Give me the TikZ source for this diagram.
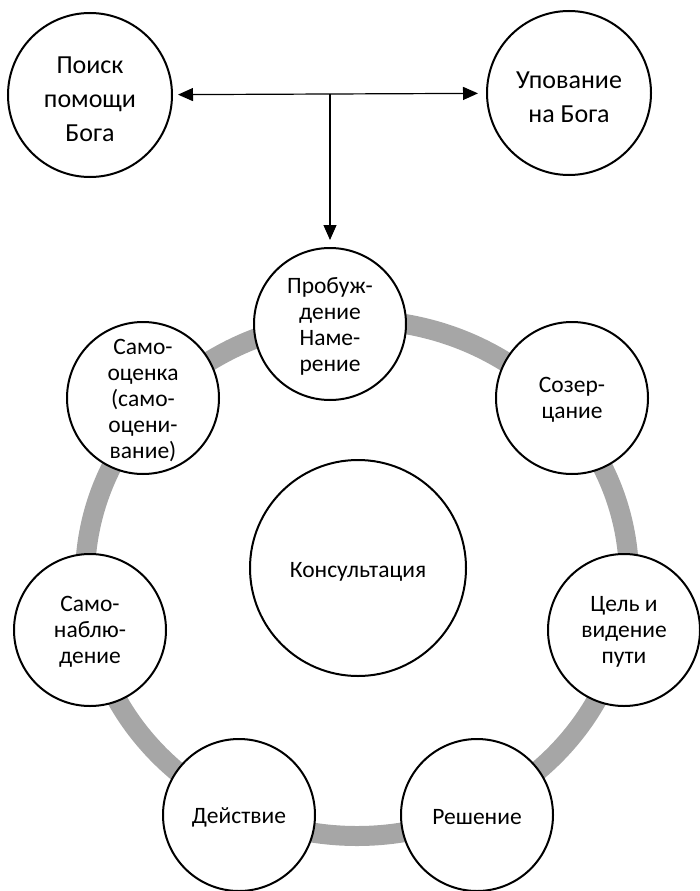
\documentclass[tikz,border=0pt]{standalone}
\usepackage{fontspec}
\setmainfont{Carlito}
\usetikzlibrary{arrows.meta}
\definecolor{ringgray}{HTML}{A6A6A6}
\begin{document}
\begin{tikzpicture}[x=1pt,y=-1pt,
  ringtext/.style={align=center,inner sep=0pt,font=\fontsize{23.5}{26}\selectfont,yshift=-2pt},
  toptext/.style={align=center,inner sep=0pt,font=\fontsize{26}{34}\selectfont,yshift=-4.5pt},
  ringc/.style={circle,draw,line width=2pt,fill=white,minimum size=152pt,inner sep=0pt,label={[ringtext]center:#1}},
  topc/.style={circle,draw,line width=2pt,fill=white,minimum size=164pt,inner sep=0pt,label={[toptext]center:#1}},
  bigc/.style={circle,draw,line width=2pt,fill=white,minimum size=216pt,inner sep=0pt,label={[ringtext,yshift=-2pt]center:#1}},
  tip/.tip={Triangle[length=15pt,width=13pt]},
  conn/.style={line width=1.2pt},
]
\useasboundingbox (0,0) rectangle (699,891);
\draw[line width=20pt,color=ringgray] (357,578) ellipse [x radius=272pt, y radius=258pt];

\node[topc={Поиск\\помощи\\Бога}] (poisk) at (90,95) {};
\node[topc={Упование\\на Бога}] (upov) at (569,93) {};
\coordinate (j) at (330,94);

\node[ringc={Пробуж-\\дение\\Наме-\\рение}] (prob) at (330,324) {};
\node[ringc={Созер-\\цание}] (sozer) at (572,398) {};
\node[ringc={Цель и\\видение\\пути}] (cel) at (624,630) {};
\node[ringc={Решение}] (resh) at (477,815) {};
\node[ringc={Действие}] (deist) at (239,815) {};
\node[ringc={Само-\\наблю-\\дение}] (samon) at (90,630) {};
\node[ringc={Само-\\оценка\\(само-\\оцени-\\вание)}] (samoo) at (143,398) {};
\node[bigc={Консультация}] (kons) at (358,568) {};

\draw[conn,tip-tip,shorten <=5pt,shorten >=8pt] (poisk) -- (upov);
\draw[conn,-tip,shorten >=7pt] (j) -- (prob);
\end{tikzpicture}
\end{document}
